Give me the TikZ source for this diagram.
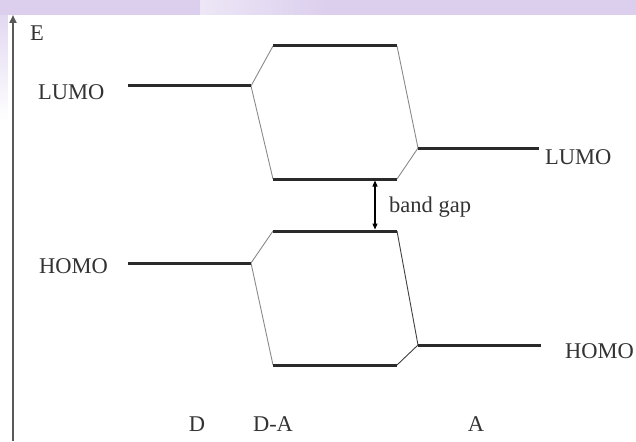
\documentclass[tikz,border=0pt]{standalone}
\usepackage{fontspec}
\setmainfont{Liberation Serif}
\usetikzlibrary{arrows.meta,fadings}
\definecolor{lav}{HTML}{DCCFEE}
\definecolor{levelc}{HTML}{2A2A2A}
\definecolor{linkc}{HTML}{8A8A8A}
\begin{document}
\begin{tikzpicture}[x=1pt,y=-1pt,
  level/.style={draw=levelc,line width=3pt},
  link/.style={draw=linkc,line width=0.9pt},
  lbl/.style={inner sep=0pt,text=black!80,font=\fontsize{22.5}{26}\selectfont},
  axisline/.style={draw=black!65,line width=2pt}]
\useasboundingbox (0,0) rectangle (636,441);
\fill[white] (0,0) rectangle (636,441);
% lavender strip along the top and upper left edge
\fill[lav] (0,0) rectangle (636,15);
\fill[white,opacity=0.5,path fading=east] (200,0) rectangle (330,15);
\fill[lav,opacity=0.8,path fading=south] (0,15) rectangle (8,120);
% energy axis
\coordinate (ax0) at (13,441);
\coordinate (ax1) at (13,15);
\draw[axisline,-{Triangle[length=8pt,width=7pt]}] (ax0) -- (ax1);
\node[lbl,anchor=west] (E) at (30,33) {E};
% end points of the levels
\coordinate (dl1) at (128,86);   \coordinate (dl2) at (251,86);
\coordinate (dh1) at (128,263);  \coordinate (dh2) at (251,263);
\coordinate (cl1) at (273,46);   \coordinate (cl2) at (397,46);
\coordinate (cm1) at (273,179);  \coordinate (cm2) at (397,179);
\coordinate (cn1) at (273,231);  \coordinate (cn2) at (397,231);
\coordinate (ch1) at (273,365);  \coordinate (ch2) at (397,365);
\coordinate (al1) at (418,148);  \coordinate (al2) at (539,148);
\coordinate (ah1) at (418,345);  \coordinate (ah2) at (541,345);
% correlation lines
\draw[link] (cl1) -- (dl2) -- (cm1);
\draw[link] (cl2) -- (al1) -- (cm2);
\draw[link] (cn1) -- (dh2) -- (ch1);
\draw[link,draw=black!75] (cn2) -- (ah1) -- (ch2);
% levels
\draw[level] (dl1) -- (dl2);
\draw[level] (dh1) -- (dh2);
\draw[level] (cl1) -- (cl2);
\draw[level] (cm1) -- (cm2);
\draw[level] (cn1) -- (cn2);
\draw[level] (ch1) -- (ch2);
\draw[level] (al1) -- (al2);
\draw[level] (ah1) -- (ah2);
% band gap
\coordinate (bg1) at (375,180.5);
\coordinate (bg2) at (375,229.5);
\draw[line width=1.2pt,{Triangle[length=6pt,width=5pt]}-{Triangle[length=6pt,width=5pt]}] (bg1) -- (bg2);
\node[lbl,anchor=west] (bgl) at (389,207) {band gap};
% labels
\node[lbl,anchor=west] (ld) at (38,92) {LUMO};
\node[lbl,anchor=west] (hd) at (39,266) {HOMO};
\node[lbl,anchor=west] (la) at (545,157) {LUMO};
\node[lbl,anchor=west] (ha) at (565,351) {HOMO};
\node[lbl] (nD) at (197,424) {D};
\node[lbl] (nDA) at (273,424) {D-A};
\node[lbl] (nA) at (476,424) {A};
\end{tikzpicture}
\end{document}
